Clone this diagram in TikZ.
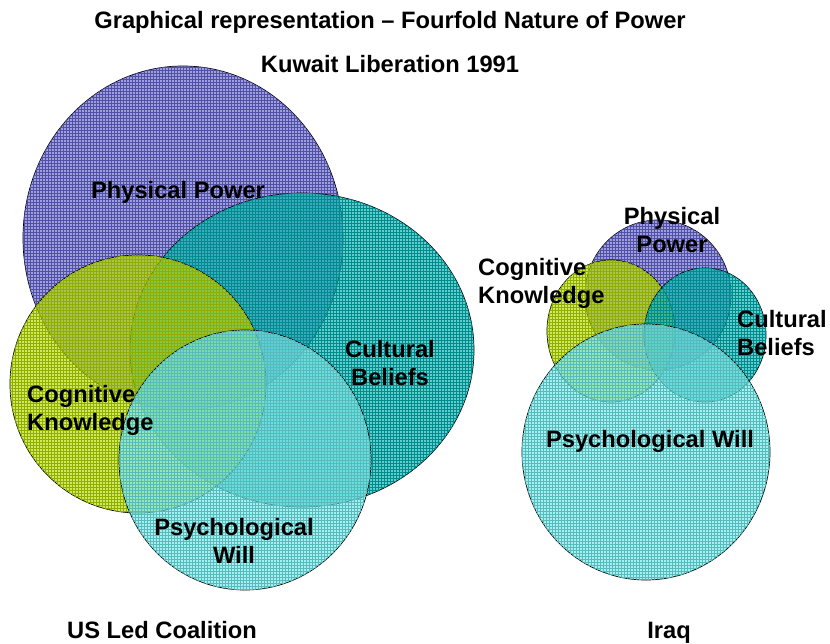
\documentclass[tikz,border=0pt]{standalone}
\usepackage{fontspec}
\setmainfont{Liberation Sans}
\usetikzlibrary{patterns}
\definecolor{powerblue}{RGB}{100,100,205}
\definecolor{beliefteal}{RGB}{0,175,175}
\definecolor{knowgreen}{RGB}{180,218,0}
\definecolor{willcyan}{RGB}{110,232,232}
\begin{document}
\begin{tikzpicture}[x=1pt,y=-1pt,font=\fontsize{23.7}{28}\selectfont\bfseries]
 \tikzset{ring/.style={draw=black,line width=0.7pt,fill opacity=0.62,
   postaction={pattern=grid,pattern color=#1!80!black}},
   lbl/.style={inner sep=0pt,anchor=base,align=center},
   lbll/.style={inner sep=0pt,anchor=base west,align=left}}
 \useasboundingbox (0,0) rectangle (830,643);
 % headings
 \node[lbl] (title) at (390,28) {Graphical representation -- Fourfold Nature of Power};
 \node[lbl] (war) at (390,72) {Kuwait Liberation 1991};
 % coalition side (base of a two line label = its second line)
 \draw[ring=powerblue,fill=powerblue] (183,238) ellipse [x radius=160pt,y radius=172pt];
 \draw[ring=beliefteal,fill=beliefteal] (302,350) ellipse [x radius=172pt,y radius=157pt];
 \draw[ring=knowgreen,fill=knowgreen] (138,384) ellipse [x radius=128pt,y radius=129pt];
 \draw[ring=willcyan,fill=willcyan] (245,460) ellipse [x radius=126pt,y radius=130pt];
 \node[lbl] (usphys) at (178,198) {Physical Power};
 \node[lbl] (uscult) at (390,385) {Cultural\\Beliefs};
 \node[lbll] (uscogn) at (27,430) {Cognitive\\Knowledge};
 \node[lbl] (uspsy) at (234,563) {Psychological\\Will};
 \node[lbl] (us) at (162,638) {US Led Coalition};
 % iraqi side
 \draw[ring=powerblue,fill=powerblue] (658,295) ellipse [x radius=73pt,y radius=75pt];
 \draw[ring=knowgreen,fill=knowgreen] (611,331) ellipse [x radius=64pt,y radius=71pt];
 \draw[ring=beliefteal,fill=beliefteal] (705,335) ellipse [x radius=61pt,y radius=67pt];
 \draw[ring=willcyan,fill=willcyan] (646,452) ellipse [x radius=124pt,y radius=128pt];
 \node[lbl] (iqphys) at (672,252) {Physical\\Power};
 \node[lbll] (iqcogn) at (478,303) {Cognitive\\Knowledge};
 \node[lbll] (iqcult) at (737,355) {Cultural\\Beliefs};
 \node[lbl] (iqpsy) at (650,447) {Psychological Will};
 \node[lbl] (iraq) at (669,638) {Iraq};
\end{tikzpicture}
\end{document}
